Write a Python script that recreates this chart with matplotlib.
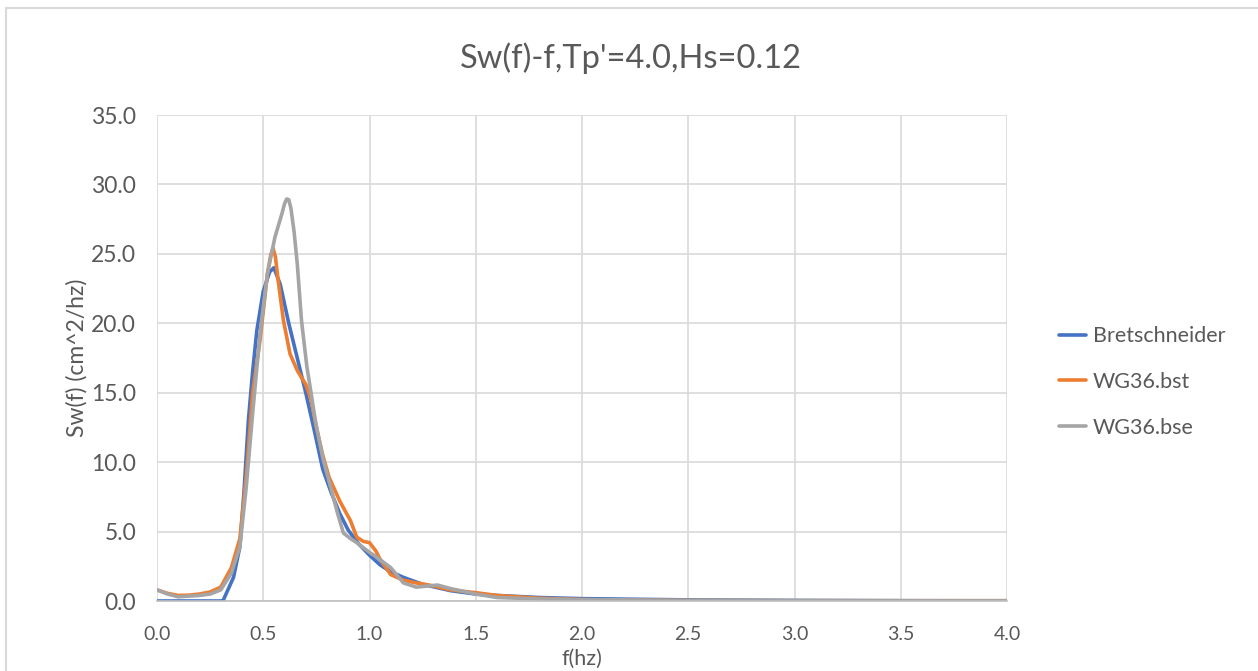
import matplotlib
matplotlib.use("Agg")
import matplotlib.pyplot as plt
from matplotlib.patches import Rectangle

# ---- data ----
f_bret = [0.0, 0.1, 0.2, 0.3, 0.31, 0.36, 0.39, 0.41, 0.43, 0.45, 0.47, 0.50, 0.53, 0.55,
          0.58, 0.62, 0.66, 0.70, 0.74, 0.78, 0.82, 0.86, 0.90, 0.95, 1.0, 1.05, 1.1,
          1.16, 1.25, 1.38, 1.5, 1.6, 1.8, 2.0, 2.5, 3.0, 3.5, 4.0]
s_bret = [0.0, 0.0, 0.0, 0.0, 0.0, 1.7, 3.9, 8.0, 13.0, 16.5, 19.5, 22.3, 23.7, 24.0,
          22.8, 20.0, 17.5, 15.0, 12.3, 9.5, 7.8, 6.3, 5.1, 4.1, 3.3, 2.6, 2.1,
          1.7, 1.2, 0.75, 0.5, 0.4, 0.25, 0.17, 0.08, 0.04, 0.02, 0.01]

f_bst = [0.0, 0.05, 0.1, 0.15, 0.2, 0.25, 0.3, 0.35, 0.39, 0.42, 0.45, 0.485, 0.52, 0.535, 0.546,
         0.557, 0.57, 0.595, 0.626, 0.66, 0.70, 0.725, 0.75, 0.78, 0.81, 0.86, 0.91, 0.94, 0.97,
         1.0, 1.03, 1.05, 1.1, 1.16, 1.22, 1.28, 1.38, 1.5, 1.6, 1.8, 2.0, 2.5, 3.0, 3.5, 4.0]
s_bst = [0.8, 0.55, 0.4, 0.42, 0.5, 0.65, 1.0, 2.4, 4.5, 9.0, 15.0, 18.8, 23.6, 24.9, 25.4,
         24.8, 23.1, 20.2, 17.8, 16.6, 15.6, 14.5, 12.5, 10.5, 8.9, 7.2, 5.8, 4.6, 4.3,
         4.2, 3.6, 3.0, 1.9, 1.5, 1.3, 1.15, 0.8, 0.6, 0.4, 0.2, 0.1, 0.03, 0.02, 0.02, 0.02]

f_bse = [0.0, 0.05, 0.1, 0.15, 0.2, 0.25, 0.3, 0.35, 0.39, 0.42, 0.45, 0.485, 0.52, 0.555,
         0.588, 0.60, 0.61, 0.62, 0.63, 0.645, 0.66, 0.68, 0.705, 0.73, 0.745, 0.78, 0.81, 0.85, 0.877,
         0.91, 0.94, 1.0, 1.03, 1.1, 1.16, 1.22, 1.32, 1.38, 1.5, 1.6, 1.8, 2.0, 2.5, 3.0, 3.5, 4.0]
s_bse = [0.8, 0.5, 0.3, 0.35, 0.4, 0.5, 0.8, 2.0, 3.9, 8.2, 13.5, 19.3, 23.6, 26.2,
         27.9, 28.6, 28.95, 28.9, 28.3, 26.6, 24.3, 20.2, 16.9, 14.5, 13.0, 10.3, 8.6, 6.3, 4.9,
         4.5, 4.2, 3.5, 3.2, 2.4, 1.3, 1.0, 1.15, 0.9, 0.5, 0.25, 0.15, 0.1, 0.05, 0.03, 0.02, 0.02]

series_names = ["Bretschneider", "WG36.bst", "WG36.bse"]
title = "Sw(f)-f,Tp'=4.0,Hs=0.12"
x_label = "f(hz)"
y_label = "Sw(f) (cm^2/hz)"
x_ticks = [0.0, 0.5, 1.0, 1.5, 2.0, 2.5, 3.0, 3.5, 4.0]
y_ticks = [0, 5, 10, 15, 20, 25, 30, 35]

# ---- style ----
plt.rcParams['font.family'] = ['Lato', 'DejaVu Sans']
colors = ["#4472C4", "#ED7D31", "#A5A5A5"]
txt = "#595959"

fig = plt.figure(figsize=(12.58, 6.71), dpi=100)
fig.patch.set_facecolor("white")
fig.patches.append(Rectangle((6 / 1258, -0.1), 1.2, 1 - 8 / 671 + 0.1,
                             transform=fig.transFigure, fill=False,
                             edgecolor="#d9d9d9", linewidth=1.5))

ax = fig.add_axes([157 / 1258, 1 - 601 / 671, 850 / 1258, 486 / 671])

for fx, sy, name, c in zip([f_bret, f_bst, f_bse], [s_bret, s_bst, s_bse], series_names, colors):
    ax.plot(fx, sy, color=c, linewidth=2.6, label=name,
            solid_joinstyle="round", solid_capstyle="round")

ax.set_xlim(0, 4.0)
ax.set_ylim(0, 35)
ax.set_xticks(x_ticks)
ax.set_xticklabels([f"{v:.1f}" for v in x_ticks])
ax.set_yticks(y_ticks)
ax.set_yticklabels([f"{v:.1f}" for v in y_ticks])
ax.grid(True, color="#d9d9d9", linewidth=1.2)
ax.set_axisbelow(True)
for sp in ["top", "right", "left"]:
    ax.spines[sp].set_visible(False)
ax.spines["bottom"].set_color("#bfbfbf")
ax.spines["bottom"].set_linewidth(1.2)
ax.tick_params(length=0, labelcolor=txt)
ax.tick_params(axis="x", labelsize=14, pad=18)
ax.tick_params(axis="y", labelsize=16.5, pad=15)

fig.text(582 / 1258, 1 - 659 / 671, x_label, ha="center", va="center", fontsize=15.5, color=txt)
fig.text(77 / 1258, 1 - 358 / 671, y_label, ha="center", va="center", rotation=90,
         fontsize=16.5, color=txt)
fig.text(631 / 1258, 1 - 58 / 671, title, ha="center", va="center", fontsize=23.5, color=txt)

leg = fig.legend(loc="center left", bbox_to_anchor=(1040 / 1258, 1 - 382 / 671),
                 frameon=False, fontsize=15.5, handlelength=1.25, handletextpad=0.3,
                 labelspacing=1.2, labelcolor=txt)
for line in leg.get_lines():
    line.set_linewidth(2.6)

fig.savefig("out.png", dpi=100, facecolor="white")
